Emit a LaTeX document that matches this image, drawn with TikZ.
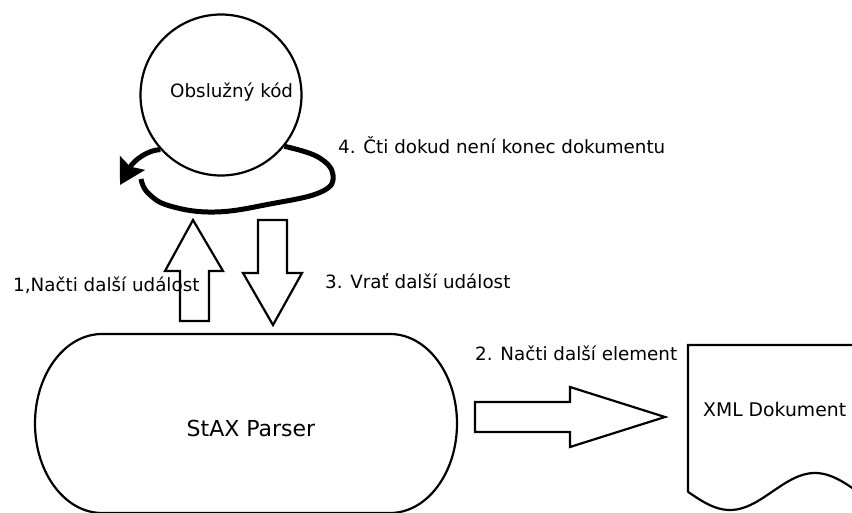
\documentclass[tikz,border=0pt]{standalone}
\usepackage{fontspec}
\setmainfont{DejaVu Sans}
\usetikzlibrary{arrows.meta}
\begin{document}
\begin{tikzpicture}[x=1pt,y=-1pt,
  outline/.style={draw=black, line width=2.2pt, line join=miter, fill=white},
  lbl/.style={font=\fontsize{18.3}{21}\selectfont, inner sep=0pt, anchor=base west},
  bigtext/.style={font=\fontsize{22}{26}\selectfont, inner sep=0pt, anchor=base},
  loopline/.style={line width=5pt}]
\useasboundingbox (0,0) rectangle (852,513);
\clip (0,0) rectangle (852,513);

% handler code
\node[circle, draw, line width=2.2pt, minimum size=161pt, inner sep=0pt] (kod) at (221,95) {};
\node[lbl] (kodtext) at (170,98) {Obslužný kód};

% event loop around the handler
\draw[loopline] plot[smooth, tension=0.7] coordinates
  {(kod.-39) (318,157) (333,175) (321,192) (270,204) (215,212) (170,206) (148,193) (141,179)};
\draw[loopline, -{Stealth[length=25pt, width=28pt, inset=4pt]}]
  (kod.222) .. controls (148,150) and (134,160) .. (120,185);
\node[lbl] (l4) at (338,154) {4. Čti dokud není konec dokumentu};

% request / response block arrows
\draw[outline] (193,220) -- (223,271) -- (209,271) -- (209,321) -- (180,321)
  -- (180,271) -- (165,271) -- cycle;
\draw[outline] (258,220) -- (287,220) -- (287,273) -- (302,273) -- (273,325)
  -- (243,273) -- (258,273) -- cycle;
\node[lbl] (l1) at (13,291) {1,Načti další událost};
\node[lbl] (l3) at (325,289) {3. Vrať další událost};

% parser
\draw[draw=black, line width=2.2pt] (102,334) -- (390,334)
  arc[start angle=-90, end angle=90, x radius=67, y radius=89.5]
  -- (102,513)
  arc[start angle=90, end angle=270, x radius=67, y radius=89.5] -- cycle;
\node[bigtext] (parser) at (251,436) {StAX Parser};

% parser reads from the document
\draw[outline] (475,402) -- (570,402) -- (570,387) -- (665,417) -- (570,447)
  -- (570,432) -- (475,432) -- cycle;
\node[lbl] (l2) at (475,360) {2. Načti další element};

% XML document
\draw[draw=black, line width=2.2pt] (870,345) -- (688,345) -- (688,492)
  -- plot[domain=688:870, samples=80] (\x, {491.5+18.5*cos(2.1176*(\x-730))});
\node[lbl, font=\fontsize{18.8}{21}\selectfont] (xml) at (703,416) {XML Dokument};
\end{tikzpicture}
\end{document}
